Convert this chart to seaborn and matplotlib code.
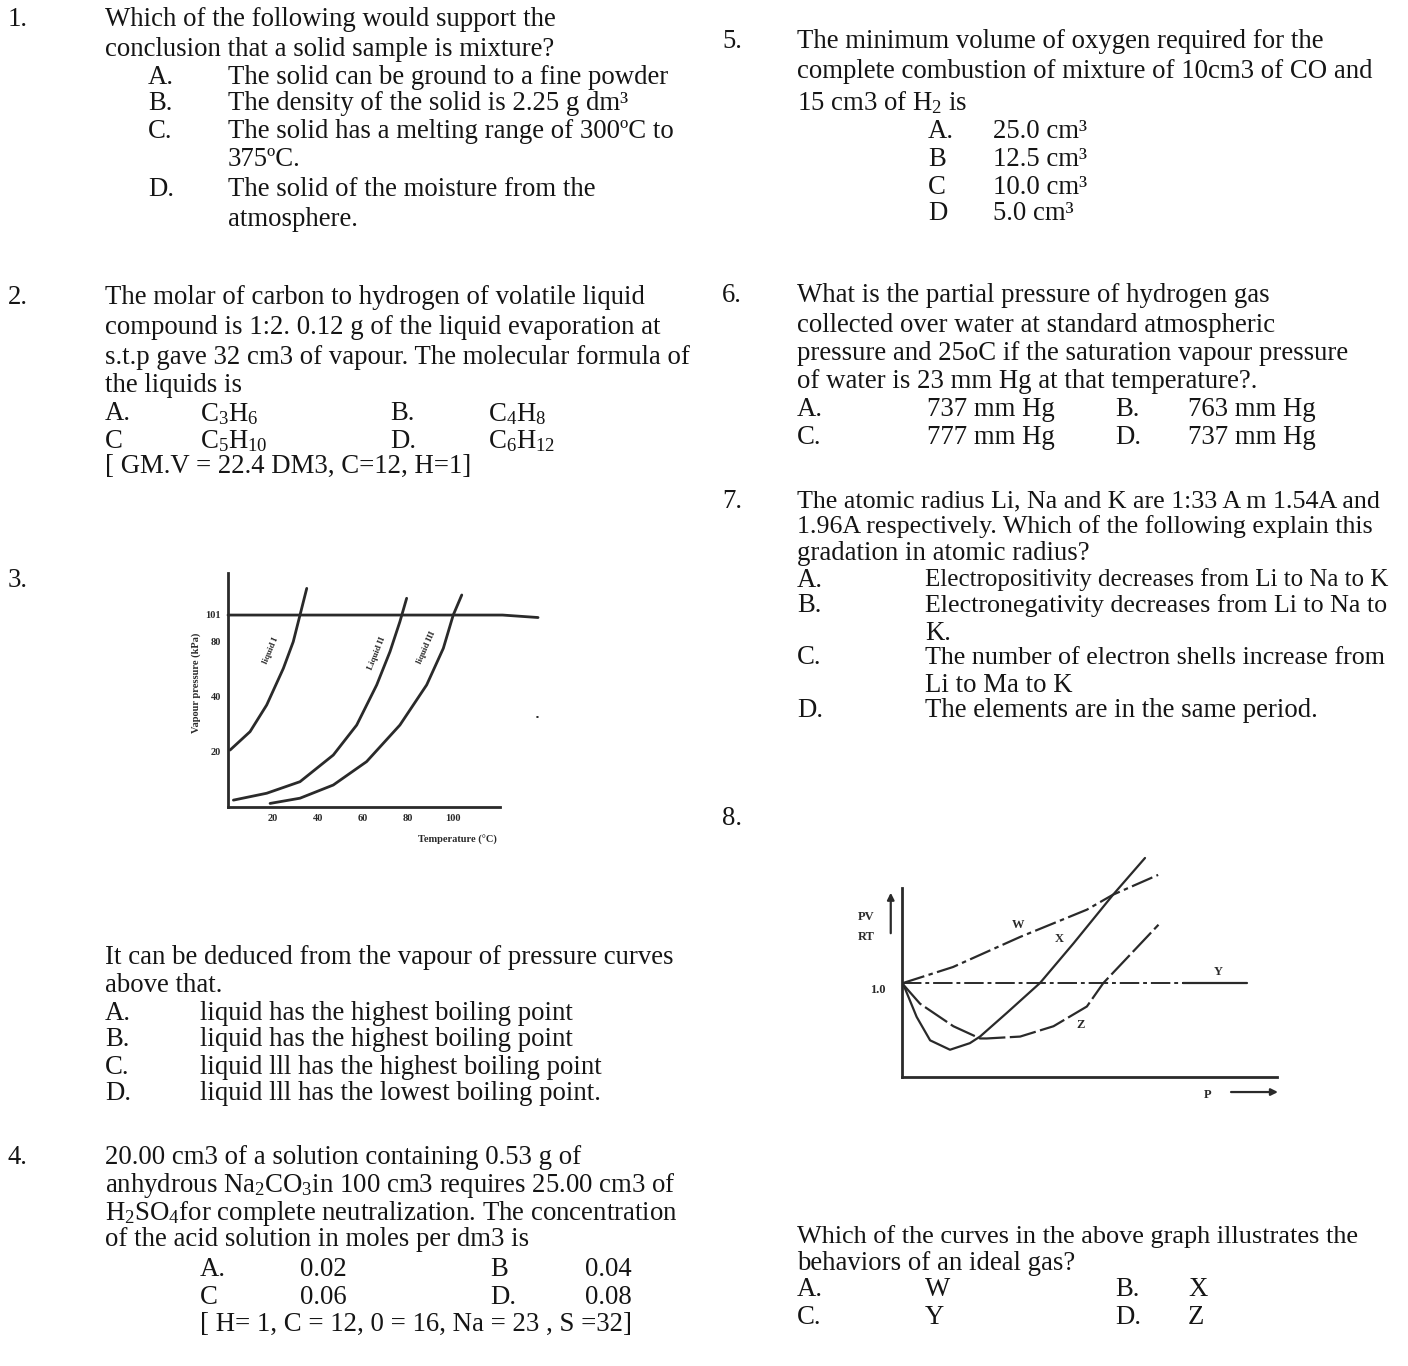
import numpy as np
import pandas as pd
import seaborn as sns
import matplotlib.pyplot as plt

# ---- data ----
# question 3: vapour pressure curves (temperature in degC, pressure in graph units)
liq1_t = [0.9, 9.8, 17.2, 24.6, 29.0, 32.0, 35.0]
liq1_p = [20.7, 27.4, 37.1, 50.4, 60.1, 69.8, 79.5]
liq2_t = [2.4, 17.2, 32.0, 46.8, 57.2, 66.1, 72.0, 76.4, 79.4]
liq2_p = [2.5, 5.0, 9.2, 18.9, 29.8, 44.4, 56.5, 67.4, 75.9]
liq3_t = [18.7, 32.0, 46.8, 61.6, 76.4, 88.3, 95.7, 100.1, 103.9]
liq3_p = [1.3, 3.2, 8.0, 16.5, 29.8, 44.4, 57.7, 69.8, 77.1]
atm_t = [0.0, 122.0, 137.8]
atm_p = [69.8, 69.8, 68.9]
temp_ticks = [20, 40, 60, 80, 100]
temp_labels = ['20', '40', '60', '80', '100']
pres_ticks = [20, 40, 60, 70]
pres_labels = ['20', '40', '80', '101']

# question 8: PV/RT against P
w_p = [0.03, 1.36, 3.15, 4.93, 5.63, 6.83]
w_y = [1.00, 1.17, 1.49, 1.78, 1.94, 2.15]
x_p = [0.04, 0.39, 0.75, 1.28, 1.81, 2.08, 2.79, 3.68, 4.57, 5.63, 6.48]
x_y = [0.98, 0.64, 0.39, 0.29, 0.36, 0.43, 0.68, 1.00, 1.42, 1.94, 2.33]
y_p = [0.0, 7.5, 9.2]
y_y = [1.0, 1.0, 1.0]
z_p = [0.04, 0.48, 1.37, 2.08, 2.26, 3.15, 4.04, 4.93, 5.37, 6.84]
z_y = [0.98, 0.78, 0.54, 0.41, 0.41, 0.43, 0.54, 0.75, 1.00, 1.62]

sns.set_style('white')
plt.rcParams['font.family'] = ['Liberation Serif', 'DejaVu Serif']
plt.rcParams['mathtext.fontset'] = 'custom'
plt.rcParams['mathtext.rm'] = 'Liberation Serif'
plt.rcParams['mathtext.it'] = 'Liberation Serif:italic'
plt.rcParams['mathtext.bf'] = 'Liberation Serif:bold'

W, H = 1408, 1366
fig = plt.figure(figsize=(W / 100, H / 100), dpi=100)
FS = 19.3
INK = '#151515'


def put(x, y, s, size=FS, **kw):
    fig.text(x / W, 1 - y / H, s, fontsize=size, color=INK, va='center', ha='left', **kw)


# ---------------- left column ----------------
put(8, 20, '1.')
put(105, 20, 'Which of the following would support the')
put(105, 50, 'conclusion that a solid sample is mixture?')
put(148, 77, 'A.'); put(228, 77, 'The solid can be ground to a fine powder')
put(148, 104, 'B.'); put(228, 104, 'The density of the solid is 2.25 g dm³')
put(148, 131, 'C.'); put(228, 131, 'The solid has a melting range of 300ºC to')
put(228, 160, '375ºC.')
put(148, 190, 'D.'); put(228, 190, 'The solid of the moisture from the')
put(228, 220, 'atmosphere.')

put(8, 298, '2.')
put(105, 298, 'The molar of carbon to hydrogen of volatile liquid')
put(105, 328, 'compound is 1:2. 0.12 g of the liquid evaporation at')
put(105, 357, 's.t.p gave 32 cm3 of vapour. The molecular formula of')
put(105, 386, 'the liquids is')
put(105, 414, 'A.'); put(200, 414, 'C$_3$H$_6$')
put(390, 414, 'B.'); put(488, 414, 'C$_4$H$_8$')
put(105, 441, 'C'); put(200, 441, 'C$_5$H$_{10}$')
put(390, 441, 'D.'); put(488, 441, 'C$_6$H$_{12}$')
put(105, 466, '[ GM.V = 22.4 DM3, C=12, H=1]')

put(8, 580, '3.')
put(105, 958, 'It can be deduced from the vapour of pressure curves')
put(105, 985, 'above that.')
put(105, 1013, 'A.'); put(200, 1013, 'liquid has the highest boiling point')
put(105, 1040, 'B.'); put(200, 1040, 'liquid has the highest boiling point')
put(105, 1067, 'C.'); put(200, 1067, 'liquid lll has the highest boiling point')
put(105, 1094, 'D.'); put(200, 1094, 'liquid lll has the lowest boiling point.')

put(8, 1158, '4.')
put(105, 1158, '20.00 cm3 of a solution containing 0.53 g of')
put(105, 1185, 'anhydrous Na$_2$CO$_3$in 100 cm3 requires 25.00 cm3 of')
put(105, 1214, 'H$_2$SO$_4$for complete neutralization. The concentration')
put(105, 1240, 'of the acid solution in moles per dm3 is')
put(200, 1270, 'A.'); put(300, 1270, '0.02'); put(490, 1270, 'B'); put(585, 1270, '0.04')
put(200, 1297, 'C'); put(300, 1297, '0.06'); put(490, 1297, 'D.'); put(585, 1297, '0.08')
put(200, 1324, '[ H= 1, C = 12, 0 = 16, Na = 23 , S =32]')

# ---------------- right column ----------------
put(722, 42, '5.')
put(797, 42, 'The minimum volume of oxygen required for the')
put(797, 72, 'complete combustion of mixture of 10cm3 of CO and')
put(797, 103, '15 cm3 of H$_2$ is')
put(928, 132, 'A.'); put(993, 132, '25.0 cm³')
put(928, 160, 'B'); put(993, 160, '12.5 cm³')
put(928, 187, 'C'); put(993, 187, '10.0 cm³')
put(928, 214, 'D'); put(993, 214, '5.0 cm³')

put(722, 296, '6.')
put(797, 296, 'What is the partial pressure of hydrogen gas')
put(797, 326, 'collected over water at standard atmospheric')
put(797, 354, 'pressure and 25oC if the saturation vapour pressure')
put(797, 382, 'of water is 23 mm Hg at that temperature?.')
put(797, 410, 'A.'); put(927, 410, '737 mm Hg'); put(1115, 410, 'B.'); put(1188, 410, '763 mm Hg')
put(797, 438, 'C.'); put(927, 438, '777 mm Hg'); put(1115, 438, 'D.'); put(1188, 438, '737 mm Hg')

put(722, 501, '7.')
put(797, 501, 'The atomic radius Li, Na and K are 1:33 A m 1.54A and', size=FS - 0.6)
put(797, 527, '1.96A respectively. Which of the following explain this', size=FS - 0.6)
put(797, 553, 'gradation in atomic radius?')
put(797, 580, 'A.'); put(925, 580, 'Electropositivity decreases from Li to Na to K', size=FS - 1.3)
put(797, 606, 'B.'); put(925, 606, 'Electronegativity decreases from Li to Na to', size=FS - 0.6)
put(925, 633, 'K.')
put(797, 658, 'C.'); put(925, 658, 'The number of electron shells increase from', size=FS - 0.6)
put(925, 685, 'Li to Ma to K')
put(797, 711, 'D.'); put(925, 711, 'The elements are in the same period.')

put(722, 818, '8.')
put(797, 1237, 'Which of the curves in the above graph illustrates the', size=FS - 0.4)
put(797, 1263, 'behaviors of an ideal gas?')
put(797, 1290, 'A.'); put(925, 1290, 'W'); put(1115, 1290, 'B.'); put(1188, 1290, 'X')
put(797, 1318, 'C.'); put(925, 1318, 'Y'); put(1115, 1318, 'D.'); put(1188, 1318, 'Z')

# ---------------- graph for question 3 ----------------
LINE = '#2a2a2a'
ax1 = fig.add_axes([228 / W, 1 - 807 / H, 315 / W, 242 / H])
ax1.set_facecolor('none')
curves = pd.concat([
    pd.DataFrame({'t': liq1_t, 'p': liq1_p, 'liquid': 'I'}),
    pd.DataFrame({'t': liq2_t, 'p': liq2_p, 'liquid': 'II'}),
    pd.DataFrame({'t': liq3_t, 'p': liq3_p, 'liquid': 'III'}),
])
sns.lineplot(data=curves, x='t', y='p', units='liquid', estimator=None, sort=False,
             color=LINE, lw=2.0, ax=ax1)
sns.lineplot(x=atm_t, y=atm_p, color=LINE, lw=2.0, ax=ax1, clip_on=False)
ax1.set_xlim(0, 140)
ax1.set_ylim(0, 88)
for side in ['top', 'right']:
    ax1.spines[side].set_visible(False)
ax1.spines['left'].set_bounds(0, 85)
ax1.spines['bottom'].set_bounds(0, 121)
for side in ['left', 'bottom']:
    ax1.spines[side].set_linewidth(2.0)
    ax1.spines[side].set_color(LINE)
ax1.set_xticks(temp_ticks, temp_labels)
ax1.set_yticks(pres_ticks, pres_labels)
ax1.tick_params(labelsize=7.5, length=3, width=1, colors=LINE, direction='in', pad=5)
for lab in ax1.get_xticklabels() + ax1.get_yticklabels():
    lab.set_fontweight('bold')
ax1.set_xlabel('')
ax1.set_ylabel('')
ax1.text(102, -12, 'Temperature (°C)', fontsize=7.5, fontweight='bold', color=LINE,
         ha='center', va='center')
ax1.text(-14, 45, 'Vapour pressure (kPa)', fontsize=7.5, fontweight='bold', color=LINE,
         ha='center', va='center', rotation=90)
ax1.text(19, 57, 'liquid I', fontsize=6.5, fontweight='bold', color=LINE, rotation=67,
         ha='center', va='center')
ax1.text(66, 56, 'Liquid II', fontsize=6.5, fontweight='bold', color=LINE, rotation=68,
         ha='center', va='center')
ax1.text(88, 58, 'liquid III', fontsize=6.5, fontweight='bold', color=LINE, rotation=66,
         ha='center', va='center')
ax1.text(137.5, 33, '▪', fontsize=6, color=LINE, ha='center', va='center')

# ---------------- graph for question 8 ----------------
ax2 = fig.add_axes([902 / W, 1 - 1077 / H, 397.5 / W, 235 / H])
ax2.set_facecolor('none')
sns.lineplot(x=w_p, y=w_y, sort=False, color=LINE, lw=1.6, ax=ax2,
             linestyle=(0, (10, 2, 2, 2)))
sns.lineplot(x=x_p, y=x_y, sort=False, color=LINE, lw=1.6, ax=ax2, clip_on=False)
sns.lineplot(x=y_p[:2], y=y_y[:2], color=LINE, lw=1.4, ax=ax2, linestyle=(0, (10, 2, 2, 2)))
sns.lineplot(x=y_p[1:], y=y_y[1:], color=LINE, lw=1.6, ax=ax2)
sns.lineplot(x=z_p, y=z_y, sort=False, color=LINE, lw=1.6, ax=ax2,
             linestyle=(0, (12, 2)))
ax2.set_xlim(0, 10.6)
ax2.set_ylim(0, 2.5)
for side in ['top', 'right']:
    ax2.spines[side].set_visible(False)
ax2.spines['left'].set_bounds(0, 2.01)
ax2.spines['bottom'].set_bounds(0, 10)
ax2.spines['bottom'].set_linestyle((0, (6, 1)))
for side in ['left', 'bottom']:
    ax2.spines[side].set_linewidth(2.0)
    ax2.spines[side].set_color(LINE)
ax2.set_xticks([])
ax2.set_yticks([])
LBL = dict(fontsize=9, color=LINE, ha='center', va='center', fontweight='bold')
ax2.text(-0.95, 1.70, 'PV', **LBL)
ax2.text(-0.95, 1.49, 'RT', **LBL)
ax2.annotate('', xy=(-0.3, 1.99), xytext=(-0.3, 1.50), annotation_clip=False,
             arrowprops=dict(arrowstyle='-|>', color=LINE, lw=1.6, mutation_scale=10))
ax2.text(-0.65, 0.93, '1.0', **LBL)
ax2.text(8.43, 1.12, 'Y', **LBL)
ax2.text(3.1, 1.62, 'W', **LBL)
ax2.text(4.2, 1.47, 'X', **LBL)
ax2.text(4.75, 0.55, 'Z', **LBL)
ax2.text(8.15, -0.19, 'P', **LBL)
ax2.annotate('', xy=(10.1, -0.16), xytext=(8.7, -0.16), annotation_clip=False,
             arrowprops=dict(arrowstyle='-|>', color=LINE, lw=1.6, mutation_scale=10))

fig.savefig('out.png', dpi=100)
